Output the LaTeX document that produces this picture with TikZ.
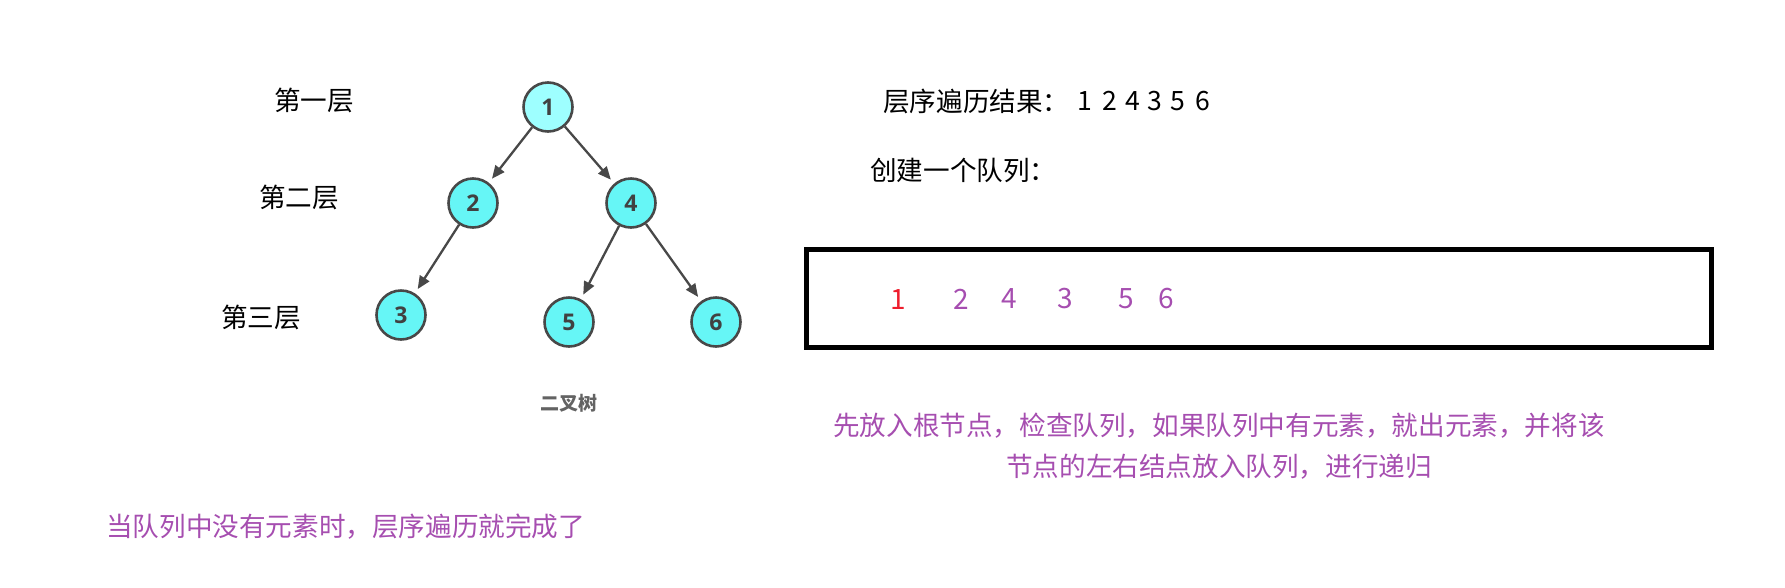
\documentclass[tikz,border=0pt]{standalone}
\usepackage{fontspec}
\setmainfont{Noto Sans CJK SC}
\newfontfamily\treefont{Open Sans}
\usetikzlibrary{arrows.meta}
\definecolor{qpurple}{RGB}{166,78,176}
\definecolor{qred}{RGB}{238,30,45}
\definecolor{cyanA}{RGB}{158,255,255}
\definecolor{cyanB}{RGB}{102,246,246}
\definecolor{edgegray}{RGB}{72,72,72}
\tikzset{
  treenode/.style={circle,draw=edgegray,line width=2.6pt,fill=cyanB,minimum size=49pt,inner sep=0pt,
    font=\treefont\bfseries\fontsize{23pt}{26pt}\selectfont,text=edgegray!90!black},
  treeedge/.style={draw=edgegray,line width=2.3pt,-{Triangle[length=13pt,width=11pt]},shorten >=5pt},
  cjk/.style={font=\fontsize{26.6pt}{30pt}\selectfont,inner sep=0pt},
  qnum/.style={font=\fontsize{28pt}{32pt}\selectfont,inner sep=0pt,text=qpurple},
}
\begin{document}
\begin{tikzpicture}[x=1pt,y=-1pt]
\useasboundingbox (0,0) rectangle (1785,587);
% tree
\node[treenode,fill=cyanA] (n1) at (548,107) {1};
\node[treenode] (n2) at (473,203) {2};
\node[treenode] (n4) at (631,203) {4};
\node[treenode] (n3) at (401,315) {3};
\node[treenode] (n5) at (569,322) {5};
\node[treenode] (n6) at (716,322) {6};
\draw[treeedge] (n1) -- (n2);
\draw[treeedge] (n1) -- (n4);
\draw[treeedge] (n2) -- (n3);
\draw[treeedge] (n4) -- (n5);
\draw[treeedge] (n4) -- (n6);
\node[inner sep=0pt,text=edgegray!85,font=\bfseries\fontsize{19pt}{22pt}\selectfont] (cap) at (569,403) {二叉树};
% layer labels
\node[cjk] (l1) at (314,100) {第一层};
\node[cjk] (l2) at (299,197) {第二层};
\node[cjk] (l3) at (261,317) {第三层};
% right side
\node[cjk,anchor=west] (res) at (883,101) {层序遍历结果：};
\node[cjk] (r1) at (1085,101) {1};
\node[cjk] (r2) at (1110,101) {2};
\node[cjk] (r3) at (1133,101) {4};
\node[cjk] (r4) at (1155,101) {3};
\node[cjk] (r5) at (1178,101) {5};
\node[cjk] (r6) at (1203,101) {6};
\node[cjk,anchor=west] (mk) at (870,170) {创建一个队列：};
% queue box
\node[draw=black,line width=5pt,minimum width=905pt,minimum height=98pt,inner sep=0pt] (queue) at (1259,298) {};
\node[qnum,text=qred] (q1) at (898,300) {1};
\node[qnum] (q2) at (961,299) {2};
\node[qnum] (q3) at (1009,299) {4};
\node[qnum] (q4) at (1065,299) {3};
\node[qnum] (q5) at (1126,299) {5};
\node[qnum] (q6) at (1166,299) {6};
% explanations
\node[cjk,text=qpurple] (ex1) at (1219,426) {先放入根节点，检查队列，如果队列中有元素，就出元素，并将该};
\node[cjk,text=qpurple] (ex2) at (1219,467) {节点的左右结点放入队列，进行递归};
\node[cjk,text=qpurple,anchor=west] (done) at (106,527) {当队列中没有元素时，层序遍历就完成了};
\end{tikzpicture}
\end{document}
